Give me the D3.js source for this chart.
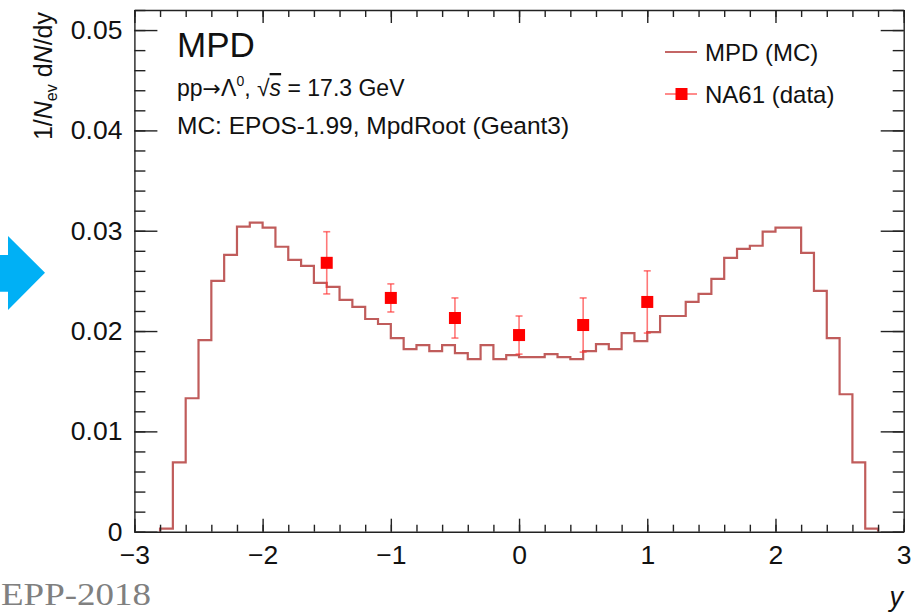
<!DOCTYPE html>
<html>
<head>
<meta charset="utf-8">
<script src="https://cdn.jsdelivr.net/npm/d3@7"></script>
<style>
body { margin: 0; background: #fff; }
text { font-family: "Liberation Sans", Arial, Helvetica, sans-serif; fill: #111; }
</style>
</head>
<body>
<div id="chart-area"></div>
<script>
// MC histogram: bins of width 0.1 from y = -2.8 to 2.8
const binStart = -2.8
const binWidth = 0.1
const mcValues = [
  0.0003, 0.0069, 0.0133, 0.0191, 0.0250, 0.0276, 0.0304, 0.0308, 0.0303, 0.0284,
  0.0271, 0.0265, 0.0248, 0.0244, 0.0231, 0.0224, 0.0212, 0.0207, 0.0193, 0.0182,
  0.0186, 0.0180, 0.0186, 0.0178, 0.0172, 0.0186, 0.0172, 0.0176,
  0.0174, 0.0174, 0.0177, 0.0174, 0.0172, 0.0180, 0.0187, 0.0182, 0.0198, 0.0190,
  0.0199, 0.0215, 0.0215, 0.0229, 0.0237, 0.0252, 0.0273, 0.0282, 0.0285, 0.0299,
  0.0303, 0.0303, 0.0278, 0.0240, 0.0193, 0.0137, 0.0069, 0.0003
]

// NA61 data points
const na61Y = [-1.5, -1.0, -0.5, 0.0, 0.5, 1.0]
const na61Values = [0.0268, 0.0233, 0.0213, 0.0196, 0.0206, 0.0229]
const na61Errors = [0.0031, 0.0014, 0.0020, 0.0019, 0.0027, 0.0031]

// ticks
const xMajorTicks = [-3, -2, -1, 0, 1, 2, 3]
const xMinorTicks = d3.range(-3, 3.0001, 0.2)
const yMajorTicks = [0, 0.01, 0.02, 0.03, 0.04, 0.05]
const yMinorTicks = d3.range(0, 0.0521, 0.002)

function drawChart() {
  const svgWidth = 922
  const svgHeight = 613
  const margin = { left: 134.4, right: 18.3, top: 10, bottom: 81.3 }
  const chartWidth = svgWidth - margin.left - margin.right
  const chartHeight = svgHeight - margin.top - margin.bottom

  const svg = d3.select("#chart-area")
    .append("svg")
    .attr("width", svgWidth)
    .attr("height", svgHeight)

  const chart = svg.append("g")
    .attr("transform", `translate(${margin.left},${margin.top})`)

  const xScale = d3.scaleLinear().domain([-3, 3]).range([0, chartWidth])
  const yScale = d3.scaleLinear().domain([0, 0.052]).range([chartHeight, 0])

  // histogram outline
  const pts = [[binStart, 0]]
  mcValues.forEach((v, i) => {
    const lo = binStart + i * binWidth
    pts.push([lo, v], [lo + binWidth, v])
  })
  pts.push([binStart + mcValues.length * binWidth, 0])

  const lineGenerator = d3.line()
    .x(d => xScale(d[0]))
    .y(d => yScale(d[1]))

  chart.append("path")
    .attr("d", lineGenerator(pts))
    .attr("fill", "none")
    .attr("stroke", "#b5403e")
    .attr("stroke-opacity", 0.85)
    .attr("stroke-width", 2.2)

  // error bars
  const pts61 = na61Y.map((y, i) => ({ y, v: na61Values[i], e: na61Errors[i] }))
  const errs = chart.append("g")
    .attr("stroke", "#ff3030")
    .attr("stroke-opacity", 0.65)
    .attr("stroke-width", 1.6)
  errs.selectAll(".bar").data(pts61).join("line")
    .attr("x1", d => xScale(d.y)).attr("x2", d => xScale(d.y))
    .attr("y1", d => yScale(d.v - d.e)).attr("y2", d => yScale(d.v + d.e))
  errs.selectAll(".capTop").data(pts61).join("line")
    .attr("x1", d => xScale(d.y) - 3.5).attr("x2", d => xScale(d.y) + 3.5)
    .attr("y1", d => yScale(d.v + d.e)).attr("y2", d => yScale(d.v + d.e))
  errs.selectAll(".capBot").data(pts61).join("line")
    .attr("x1", d => xScale(d.y) - 3.5).attr("x2", d => xScale(d.y) + 3.5)
    .attr("y1", d => yScale(d.v - d.e)).attr("y2", d => yScale(d.v - d.e))

  chart.append("g").selectAll("rect").data(pts61).join("rect")
    .attr("x", d => xScale(d.y) - 6)
    .attr("y", d => yScale(d.v) - 6)
    .attr("width", 12).attr("height", 12)
    .attr("fill", "#ff0000")

  // axes (ROOT style: ticks pointing inward, mirrored on top/right)
  const styleAxis = g => {
    g.selectAll("path.domain").attr("stroke", "#222").attr("stroke-width", 1.4)
    g.selectAll(".tick line").attr("stroke", "#222").attr("stroke-width", 1.4)
    g.selectAll(".tick text")
      .style("font-family", "'Liberation Sans', Arial, sans-serif")
      .attr("font-size", 26.5)
      .style("fill", "#111")
  }
  const noDomain = g => g.select("path.domain").remove()

  chart.append("g")
    .attr("transform", `translate(0,${chartHeight})`)
    .call(d3.axisBottom(xScale).tickValues(xMinorTicks).tickSize(-7).tickSizeOuter(0).tickFormat(""))
    .call(noDomain).call(styleAxis)
  chart.append("g")
    .attr("transform", `translate(0,${chartHeight})`)
    .call(d3.axisBottom(xScale).tickValues(xMajorTicks).tickSize(-13).tickSizeOuter(0)
      .tickPadding(13).tickFormat(d3.format("d")))
    .call(styleAxis)

  chart.append("g")
    .call(d3.axisTop(xScale).tickValues(xMinorTicks).tickSize(-7).tickSizeOuter(0).tickFormat(""))
    .call(noDomain).call(styleAxis)
  chart.append("g")
    .call(d3.axisTop(xScale).tickValues(xMajorTicks).tickSize(-13).tickSizeOuter(0).tickFormat(""))
    .call(styleAxis)

  chart.append("g")
    .call(d3.axisLeft(yScale).tickValues(yMinorTicks).tickSize(-11).tickSizeOuter(0).tickFormat(""))
    .call(noDomain).call(styleAxis)
  chart.append("g")
    .call(d3.axisLeft(yScale).tickValues(yMajorTicks).tickSize(-23).tickSizeOuter(0)
      .tickPadding(12).tickFormat(d => d === 0 ? "0" : d3.format(".2f")(d)))
    .call(styleAxis)

  chart.append("g")
    .attr("transform", `translate(${chartWidth},0)`)
    .call(d3.axisRight(yScale).tickValues(yMinorTicks).tickSize(-11).tickSizeOuter(0).tickFormat(""))
    .call(noDomain).call(styleAxis)
  chart.append("g")
    .attr("transform", `translate(${chartWidth},0)`)
    .call(d3.axisRight(yScale).tickValues(yMajorTicks).tickSize(-23).tickSizeOuter(0).tickFormat(""))
    .call(styleAxis)

  // axis titles
  const yTitle = svg.append("text")
    .attr("transform", "translate(52,12) rotate(-90)")
    .attr("text-anchor", "end")
    .attr("font-size", 25)
  yTitle.append("tspan").text("1/")
  yTitle.append("tspan").attr("font-style", "italic").text("N")
  yTitle.append("tspan").attr("font-size", 16).attr("dy", 5).text("ev")
  yTitle.append("tspan").attr("dy", -5).text(" d")
  yTitle.append("tspan").attr("font-style", "italic").text("N")
  yTitle.append("tspan").text("/dy")

  svg.append("text")
    .attr("x", 903).attr("y", 606)
    .attr("text-anchor", "end")
    .attr("font-size", 27)
    .attr("font-style", "italic")
    .text("y")

  // labels inside the frame
  svg.append("text").attr("x", 177).attr("y", 57).attr("font-size", 35).text("MPD")

  const proc = svg.append("text").attr("x", 177).attr("y", 96).attr("font-size", 23)
  proc.append("tspan").text("pp")
  proc.append("tspan").style("font-family", "'DejaVu Sans', sans-serif").attr("font-size", 22).text("\u2192")
  proc.append("tspan").text("\u039B")
  proc.append("tspan").attr("font-size", 14).attr("dy", -10).text("0")
  proc.append("tspan").attr("dy", 10).text(", \u221A")
  proc.append("tspan").attr("font-style", "italic").attr("text-decoration", "overline").text("s")
  proc.append("tspan").text(" = 17.3 GeV")

  svg.append("text").attr("x", 177).attr("y", 134).attr("font-size", 24.5)
    .text("MC: EPOS-1.99, MpdRoot (Geant3)")

  // legend
  const legend = svg.append("g")
  legend.append("line")
    .attr("x1", 665).attr("x2", 697).attr("y1", 52).attr("y2", 52)
    .attr("stroke", "#b5403e").attr("stroke-opacity", 0.8).attr("stroke-width", 2)
  legend.append("text").attr("x", 705).attr("y", 61).attr("font-size", 24).text("MPD (MC)")
  legend.append("line")
    .attr("x1", 665).attr("x2", 697).attr("y1", 94).attr("y2", 94)
    .attr("stroke", "#ff3030").attr("stroke-opacity", 0.7).attr("stroke-width", 1.6)
  legend.append("rect")
    .attr("x", 675.5).attr("y", 88).attr("width", 12).attr("height", 12)
    .attr("fill", "#ff0000")
  legend.append("text").attr("x", 705).attr("y", 103).attr("font-size", 24).text("NA61 (data)")

  // slide decorations
  svg.append("polygon")
    .attr("points", "0,255 8,255 8,236 45,272.7 8,310 8,291.7 0,291.7")
    .attr("fill", "#00b0f5")

  svg.append("text")
    .attr("x", 1).attr("y", 605)
    .style("font-family", "'Liberation Serif', 'Times New Roman', serif")
    .attr("font-size", 31)
    .attr("textLength", 150)
    .attr("lengthAdjust", "spacingAndGlyphs")
    .style("fill", "#808080")
    .text("EPP-2018")
}

drawChart()
</script>
</body>
</html>
